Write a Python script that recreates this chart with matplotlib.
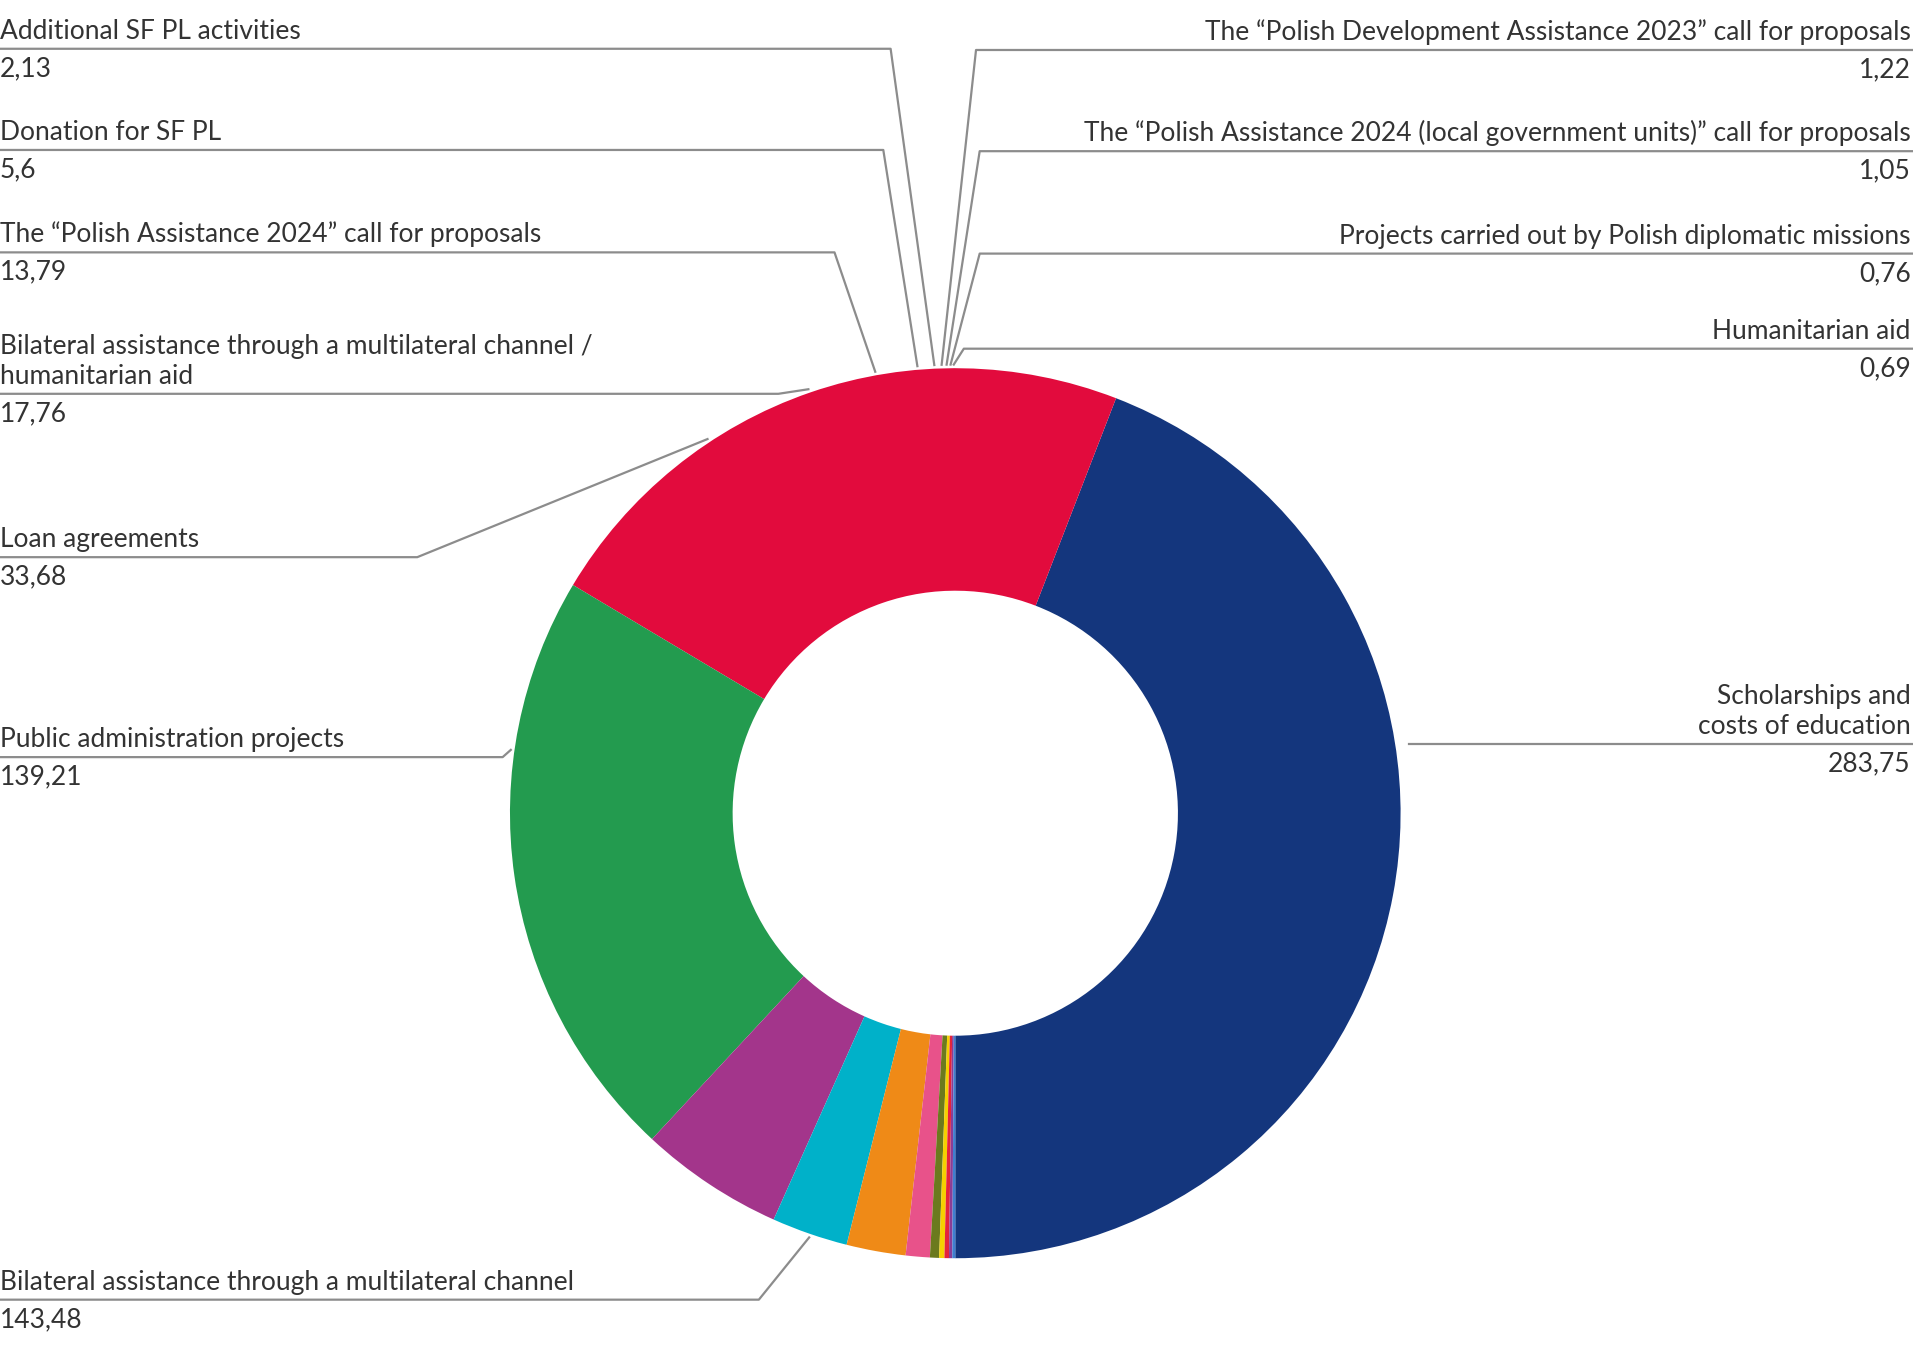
import numpy as np
import matplotlib.pyplot as plt

plt.rcParams['font.family'] = ['Lato', 'DejaVu Sans']

# slices, clockwise from 12 o'clock
labels = ['Scholarships and\ncosts of education',
          'Bilateral assistance through a multilateral channel',
          'Public administration projects',
          'Loan agreements',
          'Bilateral assistance through a multilateral channel /\nhumanitarian aid',
          'The \u201cPolish Assistance 2024\u201d call for proposals',
          'Donation for SF PL',
          'Additional SF PL activities',
          'The \u201cPolish Development Assistance 2023\u201d call for proposals',
          'The \u201cPolish Assistance 2024 (local government units)\u201d call for proposals',
          'Projects carried out by Polish diplomatic missions',
          'Humanitarian aid']
values = [283.75, 143.48, 139.21, 33.68, 17.76, 13.79, 5.6, 2.13, 1.22, 1.05, 0.76, 0.69]
value_text = ['283,75', '143,48', '139,21', '33,68', '17,76', '13,79', '5,6', '2,13',
              '1,22', '1,05', '0,76', '0,69']
colors = ['#14367d', '#e20b3d', '#239b4f', '#a3358b', '#00b1c9', '#ef8a17',
          '#e8528a', '#6b7a1e', '#f5d000', '#e4233c', '#8a3d96', '#3f7fd0']

# label layout: (side, text y, underline y, underline inner x end)
layout = [('R', 572, 610, 1155),
          ('L', 1047, 1066, 622),
          ('L', 600, 621, 412),
          ('L', 437, 457, 342),
          ('L', 287, 323, 638),
          ('L', 187, 207, 684),
          ('L', 103, 123, 724),
          ('L', 20, 40, 730),
          ('R', 22, 41, 800),
          ('R', 105, 124, 803),
          ('R', 189, 208, 803),
          ('R', 266, 286, 790)]

W, H = 1568, 1104
cx, cy, R = 783, 667, 365

fig = plt.figure(figsize=(19.13, 13.46), dpi=100)
ax = fig.add_axes([0, 0, 1, 1])
ax.set_xlim(0, W)
ax.set_ylim(H, 0)
ax.axis('off')

ax.pie(values, colors=colors, startangle=90, counterclock=False, center=(cx, cy),
       radius=R, wedgeprops=dict(width=R * 0.5, edgecolor='none'), frame=True)
ax.set_xlim(0, W)
ax.set_ylim(H, 0)
ax.set_aspect('auto')
ax.axis('off')

total = sum(values)
cum = np.cumsum([0] + values)
grey = '#8c8c8c'
tc = '#333333'
fs = 19
for i, (lab, vt) in enumerate(zip(labels, value_text)):
    side, ty, ly, lx = layout[i]
    mid = 90 - 360 * (cum[i] + values[i] / 2) / total
    # pie y axis is inverted, so flip sine
    px = cx + (R + 3) * np.cos(np.radians(mid))
    py = cy - (R + 3) * np.sin(np.radians(mid))
    if i == 0:
        px, py = lx, ly
    if side == 'L':
        ax.plot([0, lx, px], [ly, ly, py], color=grey, lw=1.6)
        ax.text(0, ly - 4, lab, ha='left', va='bottom', fontsize=fs, color=tc,
                linespacing=1.25)
        ax.text(0, ly + 6, vt, ha='left', va='top', fontsize=fs, color=tc)
    else:
        ax.plot([W, lx, px], [ly, ly, py], color=grey, lw=1.6)
        ax.text(W - 2, ly - 4, lab, ha='right', va='bottom', fontsize=fs, color=tc,
                linespacing=1.25)
        ax.text(W - 2, ly + 6, vt, ha='right', va='top', fontsize=fs, color=tc)

fig.savefig('out.png', dpi=100)
